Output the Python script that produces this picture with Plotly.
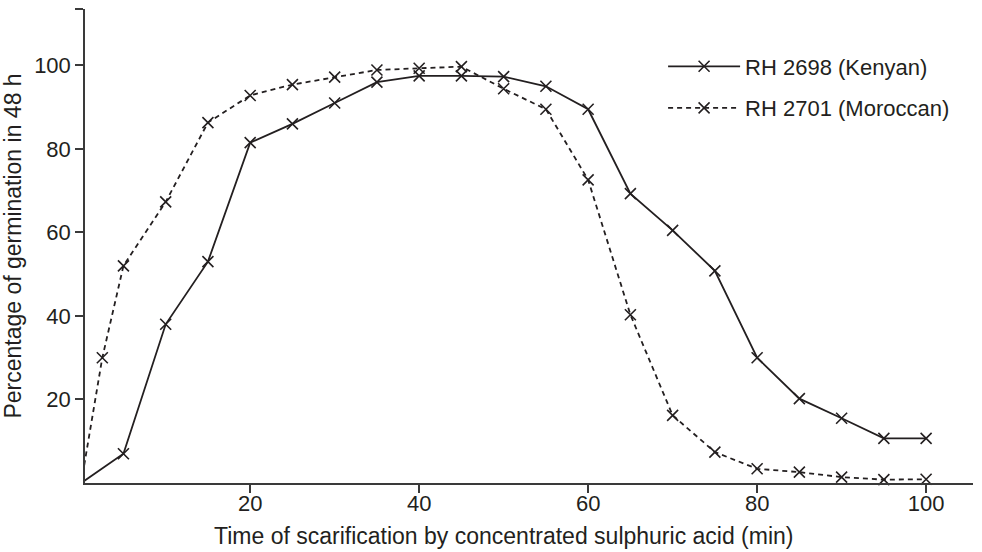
import plotly.graph_objects as go

# Scarification time (min) and germination percentage after 48 h
kenyan_time = [0, 5, 10, 15, 20, 25, 30, 35, 40, 45, 50, 55, 60, 65, 70, 75, 80, 85, 90, 95, 100]
kenyan_pct = [0, 7, 38, 53, 81.5, 86, 91, 96, 97.5, 97.5, 97.3, 95, 89.5, 69.3, 60.5, 50.8, 30, 20.2, 15.5, 10.7, 10.7]

moroccan_time = [0, 2.5, 5, 10, 15, 20, 25, 30, 35, 40, 45, 50, 55, 60, 65, 70, 75, 80, 85, 90, 95, 100]
moroccan_pct = [0, 30, 52, 67.3, 86.3, 92.8, 95.4, 97.2, 98.9, 99.3, 99.7, 94.4, 89.5, 72.6, 40.3, 16.2, 7.4, 3.4, 2.6, 1.4, 0.8, 0.9]

y_ticks = [20, 40, 60, 80, 100, 113.5]
y_tick_text = ["20", "40", "60", "80", "100", ""]
x_ticks = [20, 40, 60, 80, 100]

ink = "#231f20"
axis_ink = "#3a3a3a"
font = "Liberation Sans, Arial, sans-serif"

fig = go.Figure()
fig.add_trace(go.Scatter(
    x=kenyan_time, y=kenyan_pct, mode="lines+markers",
    name="RH 2698 (Kenyan)", legendgroup="kenyan",
    line=dict(color=ink, width=1.8),
    marker=dict(symbol="x-thin", size=11, line=dict(color=ink, width=1.6)),
    cliponaxis=False,
))
fig.add_trace(go.Scatter(
    x=moroccan_time, y=moroccan_pct, mode="lines+markers",
    name="RH 2701 (Moroccan)", legendgroup="moroccan",
    line=dict(color=ink, width=1.8, dash="5px,4px"),
    marker=dict(symbol="x-thin", size=11, line=dict(color=ink, width=1.6)),
    cliponaxis=False,
))

# x-axis title, placed as an annotation below the tick labels
fig.add_annotation(
    text="Time of scarification by concentrated sulphuric acid (min)",
    xref="paper", yref="paper", x=0.472, y=-0.112,
    xanchor="center", yanchor="middle", showarrow=False,
    font=dict(family=font, size=23, color=ink),
)

fig.update_layout(
    width=982, height=552,
    margin=dict(l=85, r=9, t=9, b=69),
    paper_bgcolor="white", plot_bgcolor="white",
    font=dict(family=font, size=22, color=ink),
    showlegend=True,
    legend=dict(
        x=0.651, y=0.923, xanchor="left", yanchor="top",
        bgcolor="rgba(0,0,0,0)", font=dict(size=22, color=ink),
        tracegroupgap=10, itemwidth=72,
    ),
    xaxis=dict(
        range=[0.45, 105.55], tickvals=x_ticks,
        showline=True, linecolor=axis_ink, linewidth=1.5,
        ticks="outside", ticklen=8, tickwidth=1.5, tickcolor=axis_ink,
        ticklabelstandoff=-8,
        showgrid=False, zeroline=False,
    ),
    yaxis=dict(
        range=[0, 113.5], tickvals=y_ticks, ticktext=y_tick_text,
        showline=True, linecolor=axis_ink, linewidth=1.5,
        ticks="outside", ticklen=8, tickwidth=1.5, tickcolor=axis_ink,
        showgrid=False, zeroline=False,
        title=dict(text="Percentage of germination in 48 h", font=dict(size=23), standoff=8),
    ),
)

fig.write_html("out.html")
